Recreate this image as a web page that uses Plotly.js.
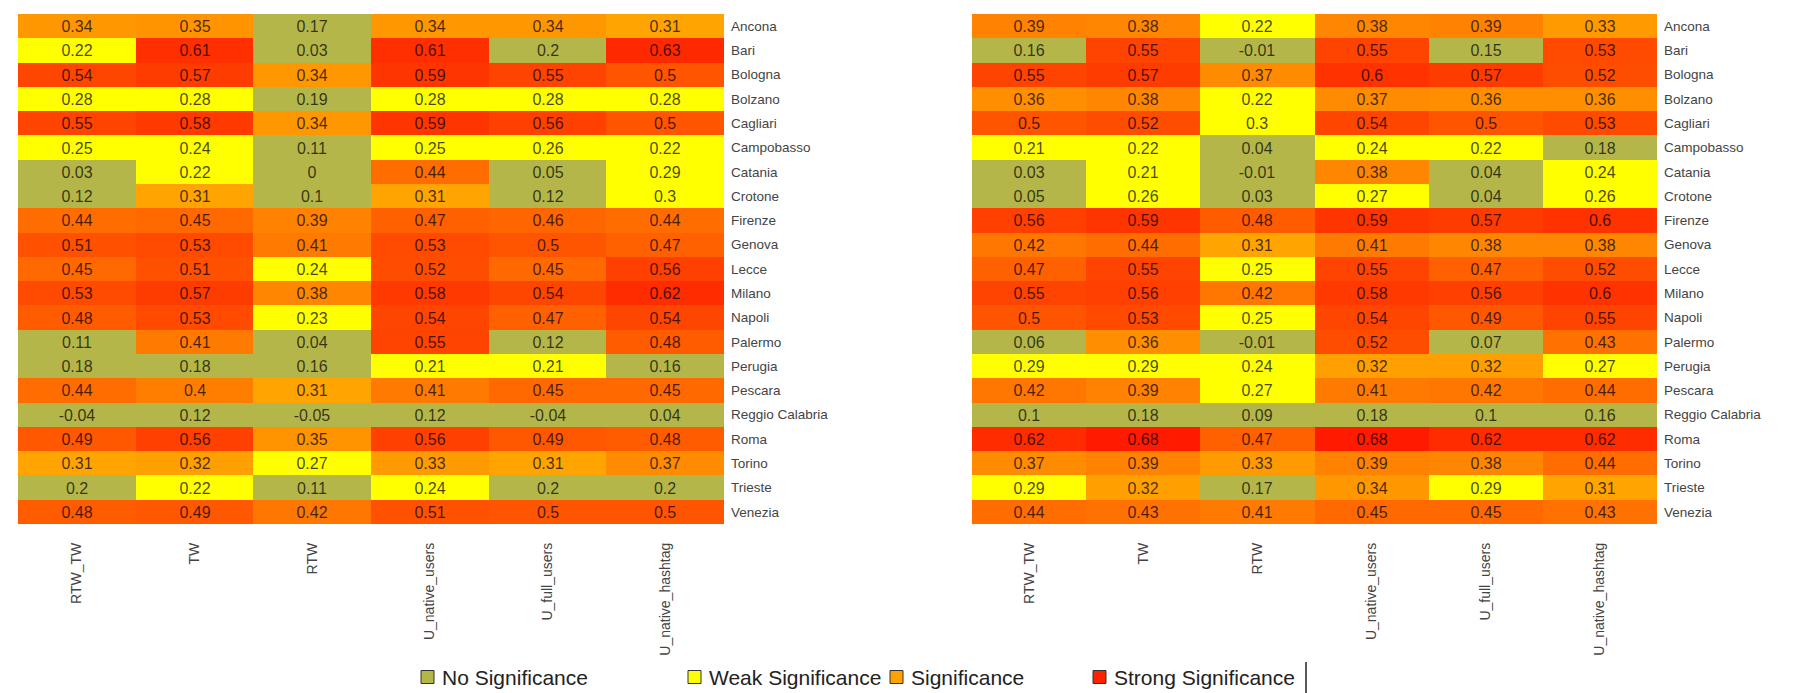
<!DOCTYPE html>
<html>
<head>
<meta charset="utf-8">
<script src="https://cdn.plot.ly/plotly-3.0.1.min.js"></script>
<style>
  html, body { margin: 0; padding: 0; background: #fff; }
  #chart { width: 1797px; height: 693px; }
</style>
</head>
<body>
<div id="chart"></div>
<script>
// ---- data ----
const cities = ['Ancona','Bari','Bologna','Bolzano','Cagliari','Campobasso','Catania','Crotone','Firenze','Genova','Lecce','Milano','Napoli','Palermo','Perugia','Pescara','Reggio Calabria','Roma','Torino','Trieste','Venezia'];
const metrics = ['RTW_TW','TW','RTW','U_native_users','U_full_users','U_native_hashtag'];

const leftValues = [
  [0.34, 0.35, 0.17, 0.34, 0.34, 0.31],
  [0.22, 0.61, 0.03, 0.61, 0.2, 0.63],
  [0.54, 0.57, 0.34, 0.59, 0.55, 0.5],
  [0.28, 0.28, 0.19, 0.28, 0.28, 0.28],
  [0.55, 0.58, 0.34, 0.59, 0.56, 0.5],
  [0.25, 0.24, 0.11, 0.25, 0.26, 0.22],
  [0.03, 0.22, 0, 0.44, 0.05, 0.29],
  [0.12, 0.31, 0.1, 0.31, 0.12, 0.3],
  [0.44, 0.45, 0.39, 0.47, 0.46, 0.44],
  [0.51, 0.53, 0.41, 0.53, 0.5, 0.47],
  [0.45, 0.51, 0.24, 0.52, 0.45, 0.56],
  [0.53, 0.57, 0.38, 0.58, 0.54, 0.62],
  [0.48, 0.53, 0.23, 0.54, 0.47, 0.54],
  [0.11, 0.41, 0.04, 0.55, 0.12, 0.48],
  [0.18, 0.18, 0.16, 0.21, 0.21, 0.16],
  [0.44, 0.4, 0.31, 0.41, 0.45, 0.45],
  [-0.04, 0.12, -0.05, 0.12, -0.04, 0.04],
  [0.49, 0.56, 0.35, 0.56, 0.49, 0.48],
  [0.31, 0.32, 0.27, 0.33, 0.31, 0.37],
  [0.2, 0.22, 0.11, 0.24, 0.2, 0.2],
  [0.48, 0.49, 0.42, 0.51, 0.5, 0.5]
];

const rightValues = [
  [0.39, 0.38, 0.22, 0.38, 0.39, 0.33],
  [0.16, 0.55, -0.01, 0.55, 0.15, 0.53],
  [0.55, 0.57, 0.37, 0.6, 0.57, 0.52],
  [0.36, 0.38, 0.22, 0.37, 0.36, 0.36],
  [0.5, 0.52, 0.3, 0.54, 0.5, 0.53],
  [0.21, 0.22, 0.04, 0.24, 0.22, 0.18],
  [0.03, 0.21, -0.01, 0.38, 0.04, 0.24],
  [0.05, 0.26, 0.03, 0.27, 0.04, 0.26],
  [0.56, 0.59, 0.48, 0.59, 0.57, 0.6],
  [0.42, 0.44, 0.31, 0.41, 0.38, 0.38],
  [0.47, 0.55, 0.25, 0.55, 0.47, 0.52],
  [0.55, 0.56, 0.42, 0.58, 0.56, 0.6],
  [0.5, 0.53, 0.25, 0.54, 0.49, 0.55],
  [0.06, 0.36, -0.01, 0.52, 0.07, 0.43],
  [0.29, 0.29, 0.24, 0.32, 0.32, 0.27],
  [0.42, 0.39, 0.27, 0.41, 0.42, 0.44],
  [0.1, 0.18, 0.09, 0.18, 0.1, 0.16],
  [0.62, 0.68, 0.47, 0.68, 0.62, 0.62],
  [0.37, 0.39, 0.33, 0.39, 0.38, 0.44],
  [0.29, 0.32, 0.17, 0.34, 0.29, 0.31],
  [0.44, 0.43, 0.41, 0.45, 0.45, 0.43]
];

const legendLabels = ['No Significance', 'Weak Significance', 'Significance', 'Strong Significance'];
const legendColors = ['#B4B646', '#FFFF00', '#FFA200', '#FF2200'];

// ---- styling ----
const W = 1797, H = 693;
const FONT = 'Liberation Sans, Arial, Helvetica, sans-serif';
const OLIVE = '#B4B64A', YELLOW = '#FFFF00';
const ZMIN = -0.1, ZMAX = 0.7;
const n = v => (v - ZMIN) / (ZMAX - ZMIN);
const colorscale = [
  [0, OLIVE], [n(0.205), OLIVE],
  [n(0.205), YELLOW], [n(0.305), YELLOW],
  [n(0.305), '#FFA600'], [n(0.4), '#FF7E00'], [n(0.5), '#FF5400'],
  [n(0.6), '#FF3200'], [1, '#FF1400']
];

function heat(values, xa, ya) {
  return {
    type: 'heatmap',
    x: metrics, y: cities, z: values,
    text: values.map(r => r.map(v => String(v))),
    texttemplate: '%{text}',
    textfont: { family: FONT, size: 16, color: 'rgba(0,0,0,0.72)' },
    colorscale: colorscale, zmin: ZMIN, zmax: ZMAX,
    showscale: false, xaxis: xa, yaxis: ya,
    hovertemplate: '%{y} / %{x}: %{z}<extra></extra>'
  };
}

const px = x => x / W;
const py = y => 1 - y / H;

const xBase = {
  type: 'category', tickangle: -90, ticks: '', showgrid: false, zeroline: false,
  showline: false, ticklabelstandoff: 15, fixedrange: true,
  tickfont: { family: FONT, size: 14, color: '#444' }
};
const yBase = {
  type: 'category', autorange: 'reversed', side: 'right', ticks: '', showgrid: false,
  zeroline: false, showline: false, ticklabelstandoff: 6, fixedrange: true,
  tickfont: { family: FONT, size: 13.5, color: '#444' }
};

// legend (drawn below the panels)
const legTextX = [440, 707, 909, 1112];
const legY = 677, box = 13;
const shapes = [], annotations = [];
legendLabels.forEach((lab, i) => {
  const bx = legTextX[i] - 19;
  shapes.push({
    type: 'rect', xref: 'paper', yref: 'paper',
    x0: px(bx), x1: px(bx + box), y0: py(legY + box / 2), y1: py(legY - box / 2),
    fillcolor: legendColors[i], line: { color: '#333', width: 1 }
  });
  annotations.push({
    xref: 'paper', yref: 'paper', x: px(legTextX[i]), y: py(legY),
    xanchor: 'left', yanchor: 'middle', showarrow: false, text: lab,
    font: { family: FONT, size: 21, color: '#222' }
  });
});
shapes.push({
  type: 'line', xref: 'paper', yref: 'paper',
  x0: px(1306), x1: px(1306), y0: py(662), y1: py(693),
  line: { color: '#222', width: 1.5 }
});

const layout = {
  width: W, height: H,
  margin: { l: 0, r: 0, t: 0, b: 0, pad: 0 },
  paper_bgcolor: '#fff', plot_bgcolor: '#fff',
  showlegend: false,
  xaxis: Object.assign({}, xBase, { domain: [px(18), px(724)], anchor: 'y' }),
  yaxis: Object.assign({}, yBase, { domain: [py(524), py(14)], anchor: 'x' }),
  xaxis2: Object.assign({}, xBase, { domain: [px(972), px(1657)], anchor: 'y2' }),
  yaxis2: Object.assign({}, yBase, { domain: [py(524), py(14)], anchor: 'x2' }),
  shapes: shapes,
  annotations: annotations
};

Plotly.newPlot('chart', [heat(leftValues, 'x', 'y'), heat(rightValues, 'x2', 'y2')], layout,
  { displayModeBar: false, staticPlot: false });
</script>
</body>
</html>
